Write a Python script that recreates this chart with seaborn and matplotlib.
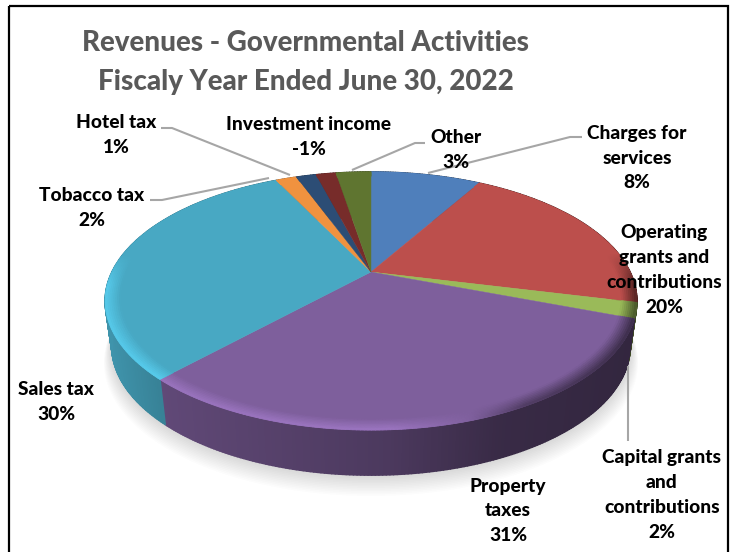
import numpy as np
import matplotlib
matplotlib.use("Agg")
import matplotlib.pyplot as plt
from matplotlib.collections import PolyCollection
from matplotlib.colors import to_rgb
from matplotlib.patches import Rectangle
import seaborn as sns

# Shares of revenue in percent, clockwise from twelve o'clock
categories = ["Charges for\nservices", "Operating\ngrants and\ncontributions",
              "Capital grants\nand\ncontributions", "Property\ntaxes", "Sales tax",
              "Tobacco tax", "Hotel tax", "Investment income", "Other"]
shares = [8.2, 20.2, 1.9, 30.8, 30.45, 1.55, 1.49, -1.49, 2.6]
colors = ["#4f7fbb", "#bc4f4c", "#9aba59", "#7e5f9c", "#48a8c3",
          "#f0923f", "#2c4d75", "#772c2a", "#5f7530"]
title_lines = "Revenues - Governmental Activities\nFiscaly Year Ended June 30, 2022"

sns.set_theme(style="white")
plt.rcParams["font.family"] = ["Lato", "DejaVu Sans"]

fig = plt.figure(figsize=(7.33, 5.52), dpi=100, facecolor="white")
ax = fig.add_axes([0, 0, 1, 1])
ax.set_xlim(0, 733)
ax.set_ylim(552, 0)
ax.axis("off")

# Perspective view of the disc; the underside sits a little narrower than the top
CX, CY, A, B, K, DEPTH, UNDER = 371.0, 272.0, 259.0, 122.5, 0.225, 45.0, 0.975


def project(radius, theta):
    """Disc coordinates (theta clockwise from the top) to canvas pixels."""
    x = radius * np.sin(theta)
    y = radius * np.cos(theta)
    w = 1 + K * y
    return CX + A * x / w, CY - B * y / w


def project_under(radius, theta):
    px, py = project(radius, theta)
    return CX + (px - CX) * UNDER, py + DEPTH


def shaded(color, factor):
    return tuple(np.clip(np.array(to_rgb(color)) * factor, 0, 1))


fractions = np.abs(shares) / np.abs(shares).sum()
edges = np.concatenate([[0], np.cumsum(fractions)]) * 2 * np.pi

# Soft ground shadow
ring = np.linspace(0, 2 * np.pi, 240)
for step in range(14):
    gx, gy = project_under(1 + step * 0.0022, ring)
    ax.fill(gx, gy + step * 1.15, color="#666666", alpha=0.018, lw=0, zorder=1)

# Side wall, split into narrow quads so the light can fall off across it
wall_light_x = [105, 165, 390, 500, 640]
wall_light = [0.88, 0.76, 0.60, 0.45, 0.40]
quads, quad_colors = [], []
for i, color in enumerate(colors):
    thetas = np.linspace(edges[i], edges[i + 1], max(3, int((edges[i + 1] - edges[i]) * 90)))
    px, py = project(1.0, thetas)
    ux, uy = project_under(1.0, thetas)
    for j in range(len(thetas) - 1):
        quads.append([(px[j], py[j]), (px[j + 1], py[j + 1]),
                      (ux[j + 1], uy[j + 1]), (ux[j], uy[j])])
        quad_colors.append(shaded(color, np.interp((px[j] + px[j + 1]) / 2, wall_light_x, wall_light)))
ax.add_collection(PolyCollection(quads, facecolors=quad_colors, edgecolors=quad_colors,
                                 linewidths=1.2, zorder=2))

# Top face
for i, color in enumerate(colors):
    thetas = np.linspace(edges[i], edges[i + 1], 120)
    px, py = project(1.0, thetas)
    ax.fill(np.r_[CX, px], np.r_[CY, py], color=color, lw=0.3, zorder=3)

# Bevel along the front rim: a highlight on the left, fading to shade on the right
bevel_x = [105, 165, 390, 470, 525, 640]
bevel_light = [1.20, 1.22, 1.24, 1.02, 0.62, 0.46]
radii = np.linspace(0.945, 1.0, 9)
bevel_quads, bevel_colors = [], []
for i, color in enumerate(colors):
    thetas = np.linspace(edges[i], edges[i + 1], max(3, int((edges[i + 1] - edges[i]) * 90)))
    for k in range(len(radii) - 1):
        r0, r1 = radii[k], radii[k + 1]
        t = (k + 0.5) / (len(radii) - 1)
        for j in range(len(thetas) - 1):
            mid = (thetas[j] + thetas[j + 1]) / 2
            fade = np.clip((0.15 - np.cos(mid)) / 0.25, 0, 1)
            x0, y0 = project(r0, thetas[j:j + 2])
            x1, y1 = project(r1, thetas[j:j + 2])
            light = np.interp(x1.mean(), bevel_x, bevel_light)
            factor = 1 + (light - 1) * fade * t
            bevel_quads.append([(x0[0], y0[0]), (x0[1], y0[1]), (x1[1], y1[1]), (x1[0], y1[0])])
            bevel_colors.append(shaded(color, factor))
ax.add_collection(PolyCollection(bevel_quads, facecolors=bevel_colors, edgecolors=bevel_colors,
                                 linewidths=0.6, zorder=4))

# Leader lines
leaders = [
    [(161, 128), (172, 128), (290, 175)],
    [(150, 200), (162, 200), (269, 178)],
    [(352, 170), (415, 143), (425, 143)],
    [(428, 173), (570, 137), (582, 137)],
    [(628, 366), (628, 441)],
]
for line in leaders:
    lx, ly = zip(*line)
    ax.plot(lx, ly, color="#a6a6a6", lw=1.5, zorder=5, solid_capstyle="butt")

# Category labels with their percentages
label_centers = [(637, 158), (664, 270), (662, 495), (508, 511), (56, 402),
                 (92, 208), (116, 135), (309, 137), (456, 150)]
for name, share, (lx, ly) in zip(categories, shares, label_centers):
    ax.text(lx, ly, f"{name}\n{share:.0f}%", ha="center", va="center", ma="center",
            fontsize=13.8, fontweight=900, color="black", linespacing=1.56, zorder=6)

ax.text(306, 62.5, title_lines, ha="center", va="center", ma="center", fontsize=20,
        fontweight=900, color="#595959", linespacing=1.58, zorder=6)

# Chart frame, open past the bottom edge of the canvas
ax.add_patch(Rectangle((9, 6), 719, 560, fill=False, edgecolor="black", lw=1.6, zorder=7, clip_on=True))

fig.savefig("out.png", dpi=100, facecolor="white")
